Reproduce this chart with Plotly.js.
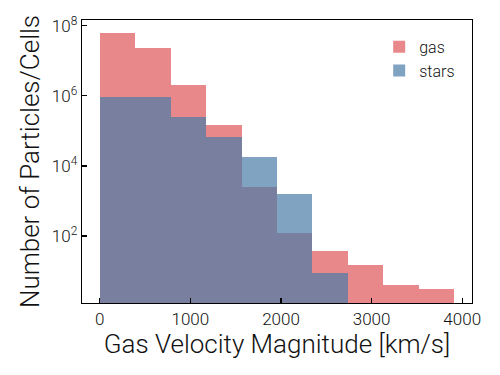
<!DOCTYPE html>
<html>
<head>
<meta charset="utf-8">
<script src="https://cdn.plot.ly/plotly-3.0.1.min.js"></script>
<style>html,body{margin:0;padding:0;background:#fff;}#chart{width:500px;height:375px;}</style>
</head>
<body>
<div id="chart"></div>
<script>
// Histogram bin edges [km/s]
const binEdges = [0, 391.2, 782.4, 1173.6, 1564.8, 1956, 2347.2, 2738.4, 3129.6, 3520.8, 3912];
// Counts per bin
const gasCounts   = [6.2e7, 2.3e7, 2.1e6, 1.5e5, 2.5e3, 120, 37, 15, 4, 3];
const starsCounts = [9.4e5, 9.2e5, 2.5e5, 6.9e4, 1.8e4, 1.6e3, 9, 0, 0, 0];
const seriesNames = ["gas", "stars"];
const xTickVals = [0, 1000, 2000, 3000, 4000];
const yTickVals = [1e2, 1e4, 1e6, 1e8];
const yTickText = ["10<sup>2</sup>", "10<sup>4</sup>", "10<sup>6</sup>", "10<sup>8</sup>"];

const lefts = binEdges.slice(0, -1);
const widths = lefts.map((e, i) => binEdges[i + 1] - e);

function trace(name, counts, color) {
  return {
    type: "bar",
    name: name,
    x: lefts,
    y: counts.map(c => c > 0 ? c : null),
    width: widths,
    offset: 0,
    marker: {color: color, line: {width: 0}},
    hoverinfo: "skip"
  };
}

const fam = "Roboto, 'DejaVu Sans', sans-serif";
const txt = "#111";

const data = [
  trace(seriesNames[0], gasCounts, "rgba(222,86,88,0.7)"),
  trace(seriesNames[1], starsCounts, "rgba(74,124,168,0.7)")
];

const layout = {
  width: 500, height: 375,
  margin: {l: 82, r: 28, t: 20, b: 72},
  paper_bgcolor: "#fff", plot_bgcolor: "#fff",
  barmode: "overlay",
  bargap: 0,
  font: {family: fam, color: txt, weight: 300},
  showlegend: true,
  legend: {
    x: 0.762, y: 0.965, xanchor: "left", yanchor: "top",
    bgcolor: "rgba(0,0,0,0)",
    font: {family: fam, size: 16, color: txt, weight: 300},
    itemwidth: 30,
    tracegroupgap: 6
  },
  xaxis: {
    range: [-196, 4108],
    tickvals: xTickVals,
    ticks: "inside", ticklen: 5, tickwidth: 1.2, tickcolor: "#000",
    showline: true, linecolor: "#000", linewidth: 1.3, mirror: true,
    showgrid: false, zeroline: false,
    tickfont: {family: fam, size: 17, color: txt, weight: 300},
    title: {text: "Gas Velocity Magnitude [km/s]", font: {family: fam, size: 26, color: txt, weight: 300}, standoff: 6}
  },
  yaxis: {
    type: "log",
    range: [0.088, 8.163],
    tickvals: yTickVals,
    ticktext: yTickText,
    ticks: "inside", ticklen: 5, tickwidth: 1.2, tickcolor: "#000",
    showline: true, linecolor: "#000", linewidth: 1.3, mirror: true,
    showgrid: false, zeroline: false,
    tickfont: {family: fam, size: 17, color: txt, weight: 300},
    title: {text: "Number of Particles/Cells", font: {family: fam, size: 26, color: txt, weight: 300}, standoff: 4}
  }
};

Plotly.newPlot("chart", data, layout, {staticPlot: true, displayModeBar: false});
</script>
</body>
</html>
